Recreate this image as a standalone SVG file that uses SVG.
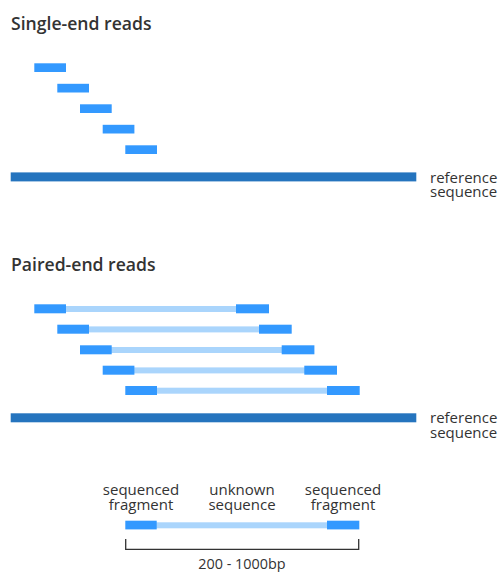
<svg xmlns="http://www.w3.org/2000/svg" width="499" height="572" viewBox="0 0 499 572">
<style>
.title{font-family:"Open Sans","Liberation Sans",sans-serif;font-weight:600;font-size:17.6px;fill:#333}
.lbl{font-family:"Open Sans","Liberation Sans",sans-serif;font-size:15px;fill:#333}
.mid{text-anchor:middle}
.read{fill:#3399ff}
.gap{fill:#aad5fc}
.ref{fill:#2574be}
.br{fill:none;stroke:#333;stroke-width:1.3}
</style>
<rect width="499" height="572" fill="#fff"/>
<g id="single-end">
<text class="title" x="11" y="30">Single-end reads</text>
<rect class="read" x="34.3" y="63.3" width="31.7" height="8.7"/>
<rect class="read" x="57.3" y="83.8" width="31.7" height="8.7"/>
<rect class="read" x="80" y="104.3" width="31.7" height="8.7"/>
<rect class="read" x="102.7" y="124.8" width="31.7" height="8.7"/>
<rect class="read" x="125.3" y="145.3" width="31.7" height="8.7"/>
<rect class="ref" x="10.7" y="172.4" width="405.6" height="9"/>
<text class="lbl" x="430" y="182.5">reference</text>
<text class="lbl" x="430" y="197.3">sequence</text>
</g>
<g id="paired-end">
<text class="title" x="11" y="271">Paired-end reads</text>
<g>
<rect class="gap" x="60" y="306" width="180" height="6"/>
<rect class="read" x="34.3" y="304.3" width="31.7" height="9"/>
<rect class="read" x="236" y="304.3" width="33" height="9"/>
</g>
<g>
<rect class="gap" x="83" y="326.4" width="180" height="6"/>
<rect class="read" x="57.3" y="324.7" width="31.7" height="9"/>
<rect class="read" x="259" y="324.7" width="32.7" height="9"/>
</g>
<g>
<rect class="gap" x="105" y="347" width="180" height="6"/>
<rect class="read" x="80" y="345.3" width="31.7" height="9"/>
<rect class="read" x="281.7" y="345.3" width="32.7" height="9"/>
</g>
<g>
<rect class="gap" x="128" y="367.4" width="180" height="6"/>
<rect class="read" x="102.7" y="365.7" width="31.7" height="9"/>
<rect class="read" x="304.3" y="365.7" width="32.7" height="9"/>
</g>
<g>
<rect class="gap" x="150" y="387.7" width="180" height="6"/>
<rect class="read" x="125.3" y="386" width="31.7" height="9"/>
<rect class="read" x="327" y="386" width="32.7" height="9"/>
</g>
<rect class="ref" x="10.7" y="413.3" width="405.6" height="9"/>
<text class="lbl" x="430" y="423.3">reference</text>
<text class="lbl" x="430" y="438.3">sequence</text>
</g>
<g id="legend">
<text class="lbl mid" x="141" y="495.3">sequenced</text>
<text class="lbl mid" x="141" y="509.5">fragment</text>
<text class="lbl mid" x="242" y="495.3">unknown</text>
<text class="lbl mid" x="242" y="509.5">sequence</text>
<text class="lbl mid" x="343" y="495.3">sequenced</text>
<text class="lbl mid" x="343" y="509.5">fragment</text>
<rect class="gap" x="150" y="522.3" width="180" height="6"/>
<rect class="read" x="125.3" y="520.7" width="31.4" height="8.7"/>
<rect class="read" x="327" y="520.7" width="32.3" height="8.7"/>
<path class="br" d="M125.7 539V549.3H358.7V539"/>
<text class="lbl mid" x="242" y="569" style="font-size:14.4px">200 - 1000bp</text>
</g>
</svg>
